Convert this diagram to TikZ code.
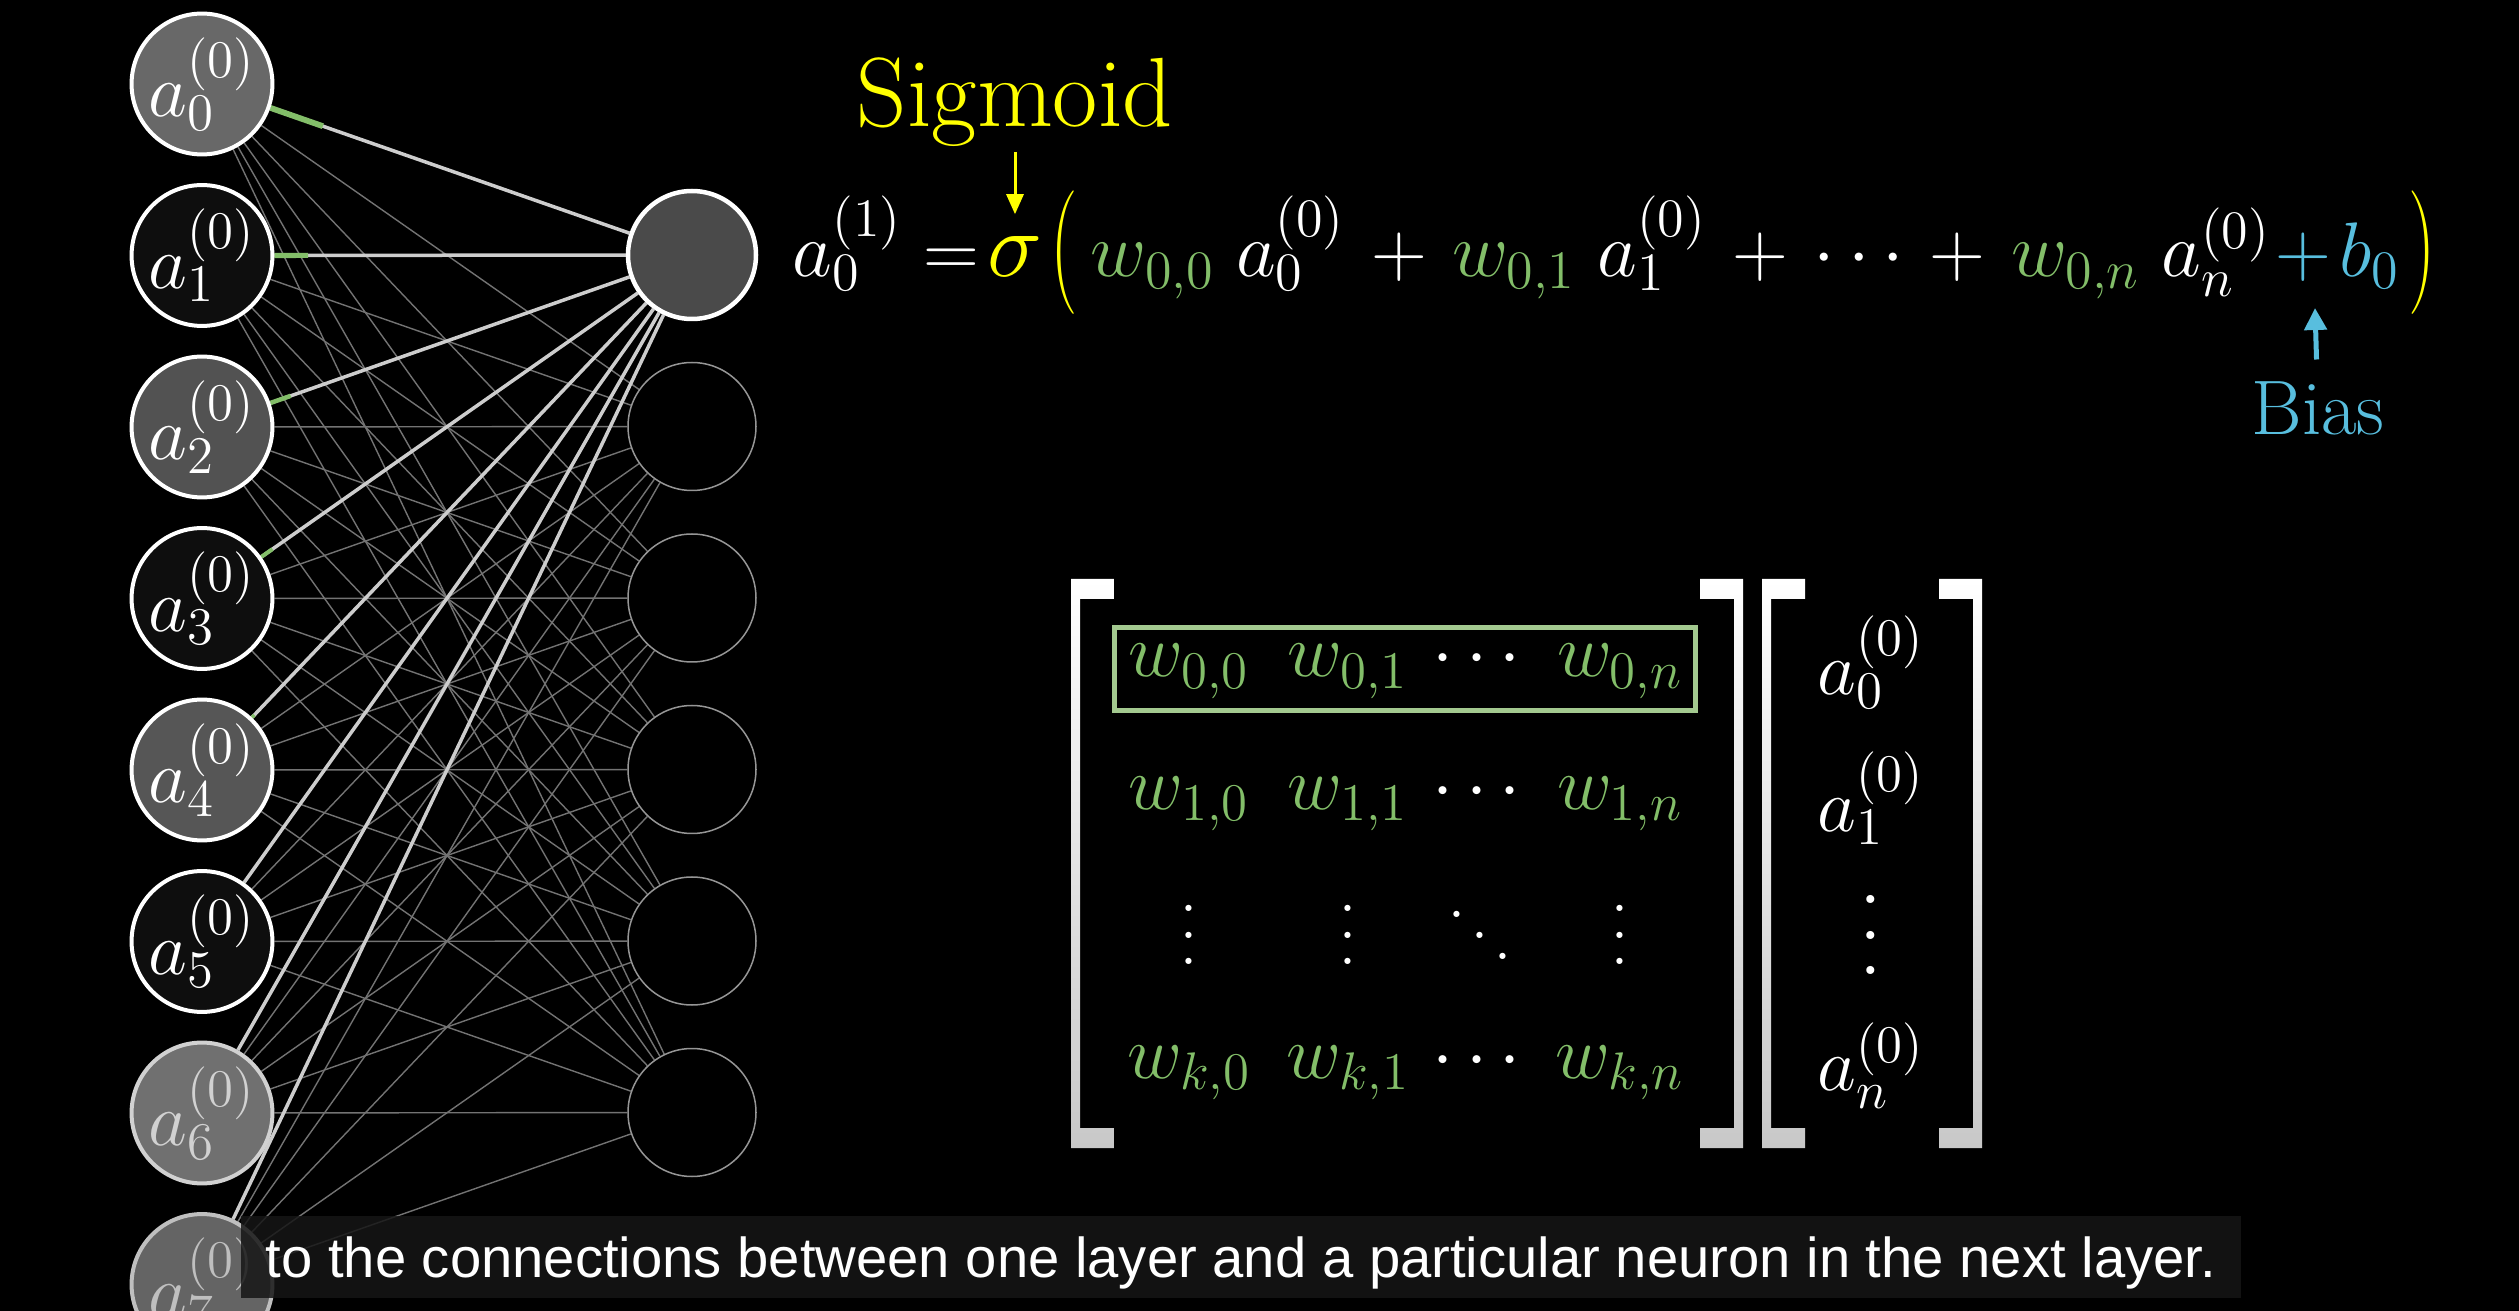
\RequirePackage{fix-cm}
\documentclass[tikz,border=0pt]{standalone}
\usepackage{fontspec}
\newfontfamily\subfont{Liberation Sans}
\usetikzlibrary{arrows.meta,calc,backgrounds}
\definecolor{wgreen}{RGB}{131,190,105}
\definecolor{boxgreen}{RGB}{163,201,143}
\definecolor{bblue}{RGB}{88,190,222}
\definecolor{sigyellow}{RGB}{255,255,0}
\definecolor{edgegray}{RGB}{115,115,115}
\definecolor{hiedgegray}{RGB}{205,205,205}
\definecolor{rgray}{RGB}{150,150,150}
\definecolor{brkgray}{RGB}{200,200,200}
\definecolor{subbg}{RGB}{22,22,22}
\newcommand{\wg}[1]{\textcolor{wgreen}{#1}}
\newcommand{\bigparen}[1]{\textcolor{sigyellow}{\raisebox{-0.08em}{\scalebox{1}[1.6]{$#1$}}}}
\newcommand{\dotcol}[1]{\vbox{\baselineskip=#1\lineskiplimit=0pt\hbox{.}\hbox{.}\hbox{.}}}
\newcommand{\dotdiag}{\raise12pt\hbox{.}\mkern1mu\raise6pt\hbox{.}\mkern1mu\hbox{.}}

\begin{document}
\begin{tikzpicture}[
  lneuron/.style={circle, minimum size=1.28cm, inner sep=0pt, line width=0.04cm,
    font=\fontsize{21.5}{24}\selectfont},
  rneuron/.style={circle, minimum size=1.28cm, inner sep=0pt, draw=rgray,
    line width=0.015cm, fill=black},
  edge/.style={edgegray, line width=0.014cm},
  hiedge/.style={hiedgegray, line width=0.035cm},
  eq/.style={white, inner sep=0pt, font=\fontsize{22}{26}\selectfont},
  mat/.style={white, inner sep=0pt, font=\fontsize{21.5}{25}\selectfont},
]
  \useasboundingbox (0,0) rectangle (25.19,-13.11);
  % input layer
  \foreach \i/\g/\bc in {0/104/white, 1/14/white, 2/82/white, 3/14/white,
      4/86/white, 5/14/white, 6/112/white!82!black, 7/100/white!75!black}
    \node[lneuron, draw=\bc, text=\bc, fill={rgb,255:red,\g;green,\g;blue,\g}]
      (l\i) at (2.02,{-0.84-1.715*\i}) {$a_{\i}^{(0)}$};
  % next layer
  \node[rneuron, fill={rgb,255:red,74;green,74;blue,74}, draw=white,
    line width=0.045cm] (r0) at (6.92,-2.55) {};
  \foreach \j in {1,...,5}
    \node[rneuron] (r\j) at (6.92,{-2.55-1.715*\j}) {};
  % connections
  \begin{scope}[on background layer]
  \fill[black] (0,0) rectangle (25.19,-13.11);
  \foreach \i in {0,...,7}
    \foreach \j in {1,...,5}
      \draw[edge] (l\i) -- (r\j);
  \foreach \i in {0,...,7}
    \draw[hiedge] (l\i) -- (r0);
  \foreach \i/\len/\wd in {0/1.28/0.058, 1/1.06/0.052, 2/0.94/0.045,
      3/0.86/0.04, 4/0.76/0.035, 5/0.72/0.03}
    \draw[wgreen, line width=\wd cm] (l\i) -- ($(l\i.center)!\len cm!(r0.center)$);
  \end{scope}
  % formula
  \node[sigyellow, inner sep=0pt, anchor=base, font=\fontsize{28}{33}\selectfont]
    (sigm) at (10.15,-1.27) {Sigmoid};
  \node[eq, sigyellow, anchor=base, scale=1.2] (sig) at (10.15,-2.77) {$\sigma$};
  \node[eq, anchor=base east] (lhs) at (9.80,-2.77) {$a_0^{(1)} =$};
  \node[eq, anchor=base west] (rhs) at (10.50,-2.77)
    {$\medmuskip=6mu \bigparen{(}\mkern3mu\wg{w_{0,0}}\; a_0^{(0)} + \wg{w_{0,1}}\; a_1^{(0)}
      + \cdots + \wg{w_{0,n}}\; a_n^{(0)}\mkern1mu\textcolor{bblue}{+\mkern2mu b_0}\mkern2mu\bigparen{)}$};
  \draw[sigyellow, line width=0.03cm, -{Triangle[length=0.2cm,width=0.17cm]},
    shorten <=0.04cm, shorten >=0.22cm] (sigm.south) -- (sig.north);
  % bias
  \node[bblue, inner sep=0pt, anchor=base, font=\fontsize{22}{26}\selectfont]
    (bias) at (23.18,-4.35) {Bias};
  \coordinate (bpt) at (23.15,-3.08);
  \draw[bblue, line width=0.05cm, -{Triangle[length=0.22cm,width=0.22cm]},
    shorten <=0.22cm] (bias) -- (bpt);
  % matrix
  \foreach \r/\y in {0/-6.77, 1/-8.09, k/-10.78} {
    \node[mat, wgreen, anchor=base] (w\r0) at (11.89,\y) {$w_{\r,0}$};
    \node[mat, wgreen, anchor=base] (w\r1) at (13.48,\y) {$w_{\r,1}$};
    \node[mat, anchor=base] (wd\r) at (14.77,\y) {$\cdots$};
    \node[mat, wgreen, anchor=base] (w\r n) at (16.20,\y) {$w_{\r,n}$};
  }
  \node[mat] (v0) at (11.89,-9.35) {\dotcol{7.6pt}};
  \node[mat] (v1) at (13.48,-9.35) {\dotcol{7.6pt}};
  \node[mat] (v2) at (14.80,-9.35) {$\dotdiag$};
  \node[mat] (v3) at (16.20,-9.35) {\dotcol{7.6pt}};
  \draw[boxgreen, line width=0.05cm] (11.145,-6.275) rectangle (16.955,-7.105);
  % vector
  \node[mat, anchor=base] (x0) at (18.71,-6.95) {$a_0^{(0)}$};
  \node[mat, anchor=base] (x1) at (18.71,-8.31) {$a_1^{(0)}$};
  \node[mat, font=\fontsize{28}{32}\selectfont] (xd) at (18.71,-9.35) {\dotcol{10.2pt}};
  \node[mat, anchor=base] (xn) at (18.71,-10.90) {$a_n^{(0)}$};
  % brackets
  \foreach \bx/\bs in {10.71/1, 17.43/-1, 17.62/1, 19.82/-1}
    \shade[top color=white, bottom color=brkgray, shift={(\bx,0)}, xscale=\bs]
      (0,-5.79) -- (0.43,-5.79) -- (0.43,-5.99) -- (0.09,-5.99) -- (0.09,-11.28)
      -- (0.43,-11.28) -- (0.43,-11.48) -- (0,-11.48) -- cycle;
  % subtitle
  \fill[subbg, fill opacity=0.85] (2.41,-12.16) rectangle (22.41,-12.98);
  \node[white, inner sep=0pt, anchor=base, font=\subfont\fontsize{16}{19}\selectfont]
    (sub) at (12.41,-12.77) {to the connections between one layer and a particular neuron in the next layer.};
\end{tikzpicture}
\end{document}
